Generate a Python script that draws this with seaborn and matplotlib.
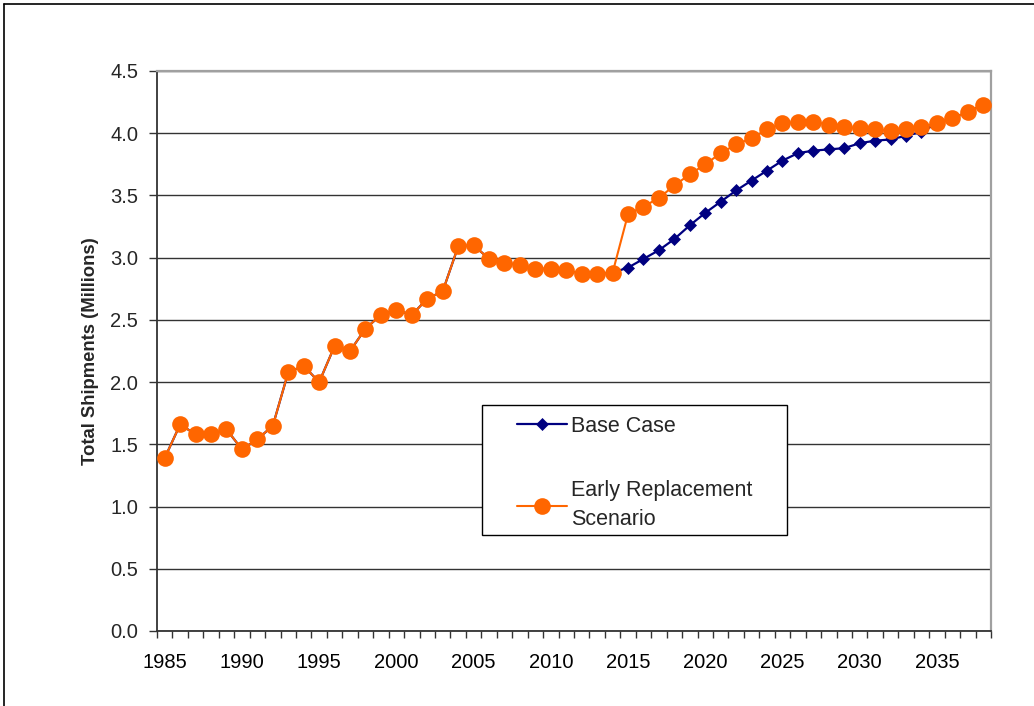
import matplotlib
matplotlib.use("Agg")
import matplotlib.pyplot as plt
from matplotlib.lines import Line2D
from matplotlib.patches import Rectangle
from matplotlib.ticker import FixedLocator, FormatStrFormatter
import numpy as np
import pandas as pd
import seaborn as sns

# Annual shipments, 1985-2038 (millions of units)
years = list(range(1985, 2039))

early_replacement = [
    1.39, 1.66, 1.58, 1.58, 1.62, 1.46, 1.54, 1.65, 2.08, 2.13,  # 1985-1994
    2.00, 2.29, 2.25, 2.43, 2.54, 2.58, 2.54, 2.67, 2.73, 3.09,  # 1995-2004
    3.10, 2.99, 2.96, 2.94, 2.91, 2.91, 2.90, 2.87, 2.87, 2.88,  # 2005-2014
    3.35, 3.41, 3.48, 3.58, 3.67, 3.75, 3.84, 3.91, 3.96, 4.03,  # 2015-2024
    4.08, 4.09, 4.09, 4.07, 4.05, 4.04, 4.03, 4.02, 4.03, 4.05,  # 2025-2034
    4.08, 4.12, 4.17, 4.23,                                      # 2035-2038
]

base_case = [
    1.39, 1.66, 1.58, 1.58, 1.62, 1.46, 1.54, 1.65, 2.08, 2.13,
    2.00, 2.29, 2.25, 2.43, 2.54, 2.58, 2.54, 2.67, 2.73, 3.09,
    3.10, 2.99, 2.96, 2.94, 2.91, 2.91, 2.90, 2.87, 2.87, 2.88,
    2.92, 2.99, 3.06, 3.15, 3.26, 3.36, 3.45, 3.54, 3.62, 3.70,
    3.78, 3.84, 3.86, 3.87, 3.88, 3.92, 3.94, 3.95, 3.98, 4.01,
    4.08, 4.12, 4.17, 4.23,
]

series_names = ["Base Case", "Early Replacement\nScenario"]
y_ticks = [0.0, 0.5, 1.0, 1.5, 2.0, 2.5, 3.0, 3.5, 4.0, 4.5]
x_label_years = list(range(1985, 2036, 5))

df = pd.DataFrame({"year": years, "base": base_case, "early": early_replacement})

sns.set_style("white")
plt.rcParams["font.family"] = ["Liberation Sans", "DejaVu Sans"]

W, H = 1034, 706
fig = plt.figure(figsize=(W / 100, H / 100), dpi=100)
ax = fig.add_axes([157 / W, 1 - 631 / H, 834 / W, 560 / H])

NAVY = "#000080"
ORANGE = "#FF6600"

sns.lineplot(data=df, x="year", y="base", ax=ax, color=NAVY, lw=1.6,
             marker="D", markersize=6.5, markeredgecolor=NAVY,
             markeredgewidth=0.5, zorder=3, label=series_names[0])
sns.lineplot(data=df, x="year", y="early", ax=ax, color=ORANGE, lw=1.5,
             marker="o", markersize=12, markeredgecolor=ORANGE,
             markeredgewidth=0, zorder=4, label=series_names[1])

# Category-style x axis: labels at year centres, ticks on the boundaries
ax.set_xlim(years[0] - 0.5, years[-1] + 0.5)
ax.xaxis.set_major_locator(FixedLocator(x_label_years))
ax.xaxis.set_minor_locator(FixedLocator(np.arange(years[0] - 0.5, years[-1] + 1.0, 1.0)))
ax.tick_params(axis="x", which="major", length=0, pad=16, labelsize=14.5, colors="black")
ax.tick_params(axis="x", which="minor", length=5, width=1, direction="out",
               color="#333333", bottom=True)

ax.set_ylim(0, 4.5)
ax.yaxis.set_major_locator(FixedLocator(y_ticks))
ax.yaxis.set_major_formatter(FormatStrFormatter("%.1f"))
ax.tick_params(axis="y", which="major", length=6, width=1, direction="out",
               color="#333333", pad=7.5, labelsize=14.5, left=True)

ax.yaxis.grid(True, color="#333333", lw=1.0)
ax.xaxis.grid(False)
ax.set_axisbelow(True)

ax.set_xlabel("")
ax.set_ylabel("Total Shipments (Millions)", fontsize=13.3, fontweight="bold", labelpad=8)

for side in ("left", "bottom"):
    ax.spines[side].set_color("#333333")
    ax.spines[side].set_linewidth(1.3)
for side in ("top", "right"):
    ax.spines[side].set_visible(True)
    ax.spines[side].set_color("#A0A0A0")
    ax.spines[side].set_linewidth(1.6)

# Legend box drawn separately so its padding can be set freely
box_x0, box_x1 = (482 - 157) / 834, (787 - 157) / 834
box_y0, box_y1 = (631 - 535) / 560, (631 - 405) / 560
ax.add_patch(Rectangle((box_x0, box_y0), box_x1 - box_x0, box_y1 - box_y0,
                       transform=ax.transAxes, facecolor="white",
                       edgecolor="black", lw=1.0, zorder=5))

leg = ax.legend(loc="upper left", bbox_to_anchor=((517 - 157) / 834, (631 - 416) / 560),
                frameon=False, fontsize=15.5, handlelength=2.3, handletextpad=0.2,
                labelspacing=2.0, borderpad=0, borderaxespad=0)
leg.set_zorder(6)
for t in leg.get_texts():
    t.set_linespacing(1.5)

# Outer chart frame
fig.add_artist(Line2D([3.5 / W, 3.5 / W], [0, 1 - 3.5 / H],
                      transform=fig.transFigure, color="black", lw=1.2))
fig.add_artist(Line2D([3.5 / W, 1], [1 - 3.5 / H, 1 - 3.5 / H],
                      transform=fig.transFigure, color="black", lw=1.2))

fig.savefig("out.png", dpi=100, facecolor="white")
